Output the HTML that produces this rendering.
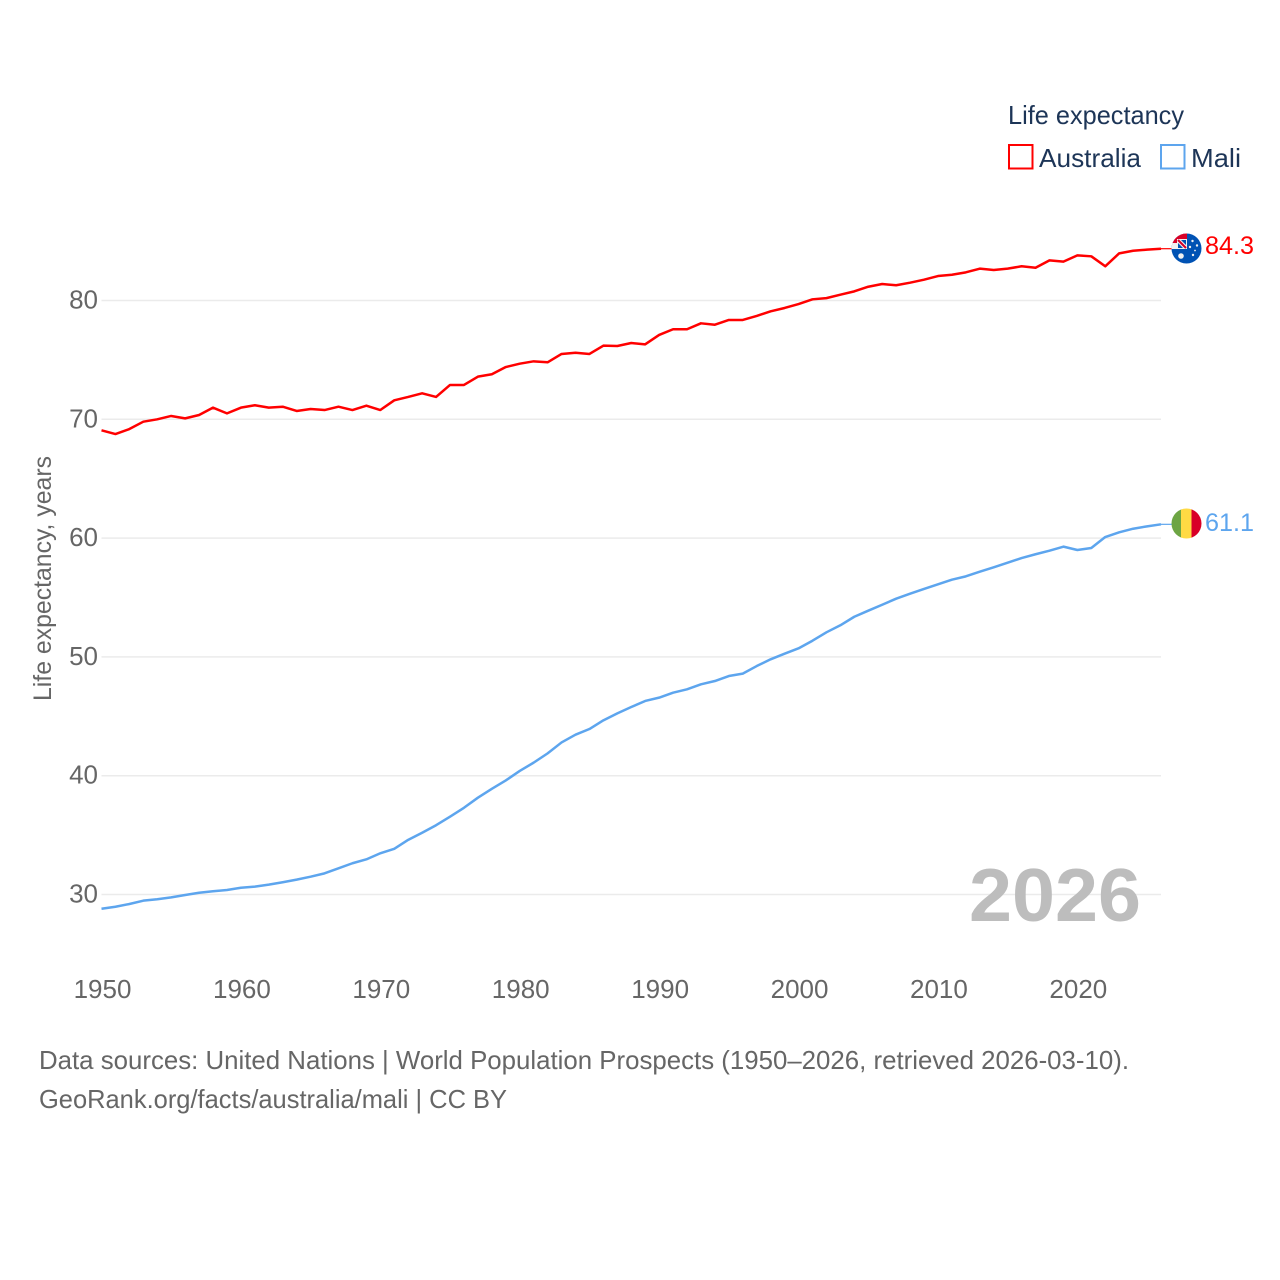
<!DOCTYPE html>
<html lang="en">
<head>
<meta charset="utf-8">
<title>Life expectancy: Australia and Mali</title>
<style>
html,body{margin:0;padding:0;background:#fff;width:1280px;height:1280px;overflow:hidden}
svg{display:block}
text{font-family:"Liberation Sans",sans-serif}
</style>
</head>
<body>
<svg id="chart" width="1280" height="1280" viewBox="0 0 1280 1280" xmlns="http://www.w3.org/2000/svg">
  <rect width="1280" height="1280" fill="#fff"/>
  <g id="grid"></g>
  <g id="yticks"></g>
  <g id="xticks"></g>
  <text transform="translate(51,701) rotate(-90)" font-size="25" fill="#666" textLength="245" lengthAdjust="spacingAndGlyphs">Life expectancy, years</text>
  <text x="969" y="921" font-size="75" font-weight="700" fill="#bdbdbd" textLength="172" lengthAdjust="spacingAndGlyphs">2026</text>
  <g id="series"></g>

  <g>
    <text x="1008" y="124" font-size="26" fill="#1d3557" textLength="176" lengthAdjust="spacingAndGlyphs">Life expectancy</text>
    <g>
      <rect x="1009" y="145" width="23.5" height="23.5" fill="none" stroke="#ff0000" stroke-width="2"/>
      <text x="1039" y="167" font-size="26" fill="#1d3557" textLength="102" lengthAdjust="spacingAndGlyphs">Australia</text>
    </g>
    <g>
      <rect x="1161" y="145" width="23.5" height="23.5" fill="none" stroke="#5da5ee" stroke-width="2"/>
      <text x="1191" y="167" font-size="26" fill="#1d3557" textLength="50" lengthAdjust="spacingAndGlyphs">Mali</text>
    </g>
  </g>

  <defs>
    <clipPath id="flag-au-clip"><circle cx="1186.5" cy="248.5" r="15"/></clipPath>
    <clipPath id="flag-ml-clip"><circle cx="1186.5" cy="523.5" r="15"/></clipPath>
  </defs>

  <g clip-path="url(#flag-au-clip)">
    <rect x="1171" y="233" width="31" height="31" fill="#0052b4"/>
    <rect x="1171" y="233" width="16" height="16" fill="#f0f0f0"/>
    <path d="M1171 233H1187V239H1177V243H1171Z" fill="#d80027"/>
    <path d="M1178 240L1186 248" stroke="#d80027" stroke-width="2"/>
    <path d="M1181 240H1186V245Z" fill="#0052b4"/>
    <path d="M1178 243V248H1183Z" fill="#0052b4"/>
    <circle cx="1181" cy="256" r="2.800" fill="#f0f0f0"/>
    <circle cx="1192.500" cy="241" r="1.200" fill="#f0f0f0"/>
    <circle cx="1197" cy="245.500" r="1.200" fill="#f0f0f0"/>
    <circle cx="1190" cy="247" r="1.200" fill="#f0f0f0"/>
    <circle cx="1193" cy="255" r="1.200" fill="#f0f0f0"/>
    <circle cx="1195" cy="250.500" r="0.900" fill="#f0f0f0"/>
  </g>
  <g clip-path="url(#flag-ml-clip)">
    <rect x="1171" y="508" width="11" height="31" fill="#6da544"/>
    <rect x="1181" y="508" width="11" height="31" fill="#ffda44"/>
    <rect x="1191.500" y="508" width="11" height="31" fill="#d80027"/>
  </g>

  <text x="1205" y="254" font-size="25" fill="#ff0000" textLength="49" lengthAdjust="spacingAndGlyphs">84.3</text>
  <text x="1205" y="531" font-size="25" fill="#5da5ee" textLength="49" lengthAdjust="spacingAndGlyphs">61.1</text>

  <text x="39" y="1069" font-size="26" fill="#666" textLength="1090" lengthAdjust="spacingAndGlyphs">Data sources: United Nations | World Population Prospects (1950–2026, retrieved 2026-03-10).</text>
  <text x="39" y="1108" font-size="26" fill="#666" textLength="468" lengthAdjust="spacingAndGlyphs">GeoRank.org/facts/australia/mali | CC BY</text>
</svg>

<script>
const startYear = 1950;
const yTickValues = [30, 40, 50, 60, 70, 80];
const xTickValues = [1950, 1960, 1970, 1980, 1990, 2000, 2010, 2020];
const australia = [
  69.07, 68.76, 69.18, 69.8, 70.0, 70.28, 70.08, 70.36, 70.98, 70.5,
  70.98, 71.18, 70.98, 71.06, 70.7, 70.87, 70.78, 71.06, 70.78, 71.15,
  70.78, 71.6, 71.88, 72.19, 71.88, 72.89, 72.89, 73.59, 73.79, 74.4,
  74.68, 74.88, 74.8, 75.5, 75.6, 75.5, 76.2, 76.17, 76.42, 76.31,
  77.1, 77.58, 77.58, 78.08, 77.96, 78.36, 78.36, 78.7, 79.09, 79.37,
  79.7, 80.1, 80.2, 80.49, 80.77, 81.16, 81.39, 81.28, 81.5, 81.75,
  82.06, 82.17, 82.37, 82.68, 82.57, 82.68, 82.88, 82.76, 83.38, 83.27,
  83.8, 83.72, 82.88, 83.97, 84.19, 84.28, 84.36
];
const mali = [
  28.8, 28.97, 29.2, 29.48, 29.6, 29.76, 29.96, 30.15, 30.27, 30.38,
  30.57, 30.66, 30.83, 31.03, 31.25, 31.5, 31.78, 32.2, 32.63, 32.96,
  33.47, 33.85, 34.6, 35.2, 35.83, 36.55, 37.3, 38.15, 38.9, 39.6,
  40.4, 41.1, 41.88, 42.8, 43.45, 43.93, 44.66, 45.25, 45.78, 46.29,
  46.57, 46.99, 47.27, 47.69, 47.97, 48.39, 48.59, 49.23, 49.8, 50.27,
  50.72, 51.36, 52.07, 52.66, 53.38, 53.89, 54.39, 54.9, 55.32, 55.72,
  56.11, 56.5, 56.78, 57.17, 57.54, 57.93, 58.32, 58.64, 58.94, 59.28,
  59.0, 59.17, 60.09, 60.49, 60.79, 60.99, 61.16
];

const SVG_NS = 'http://www.w3.org/2000/svg';
const xScale = function (year) { return 101.5 + (year - 1950) * (1161 - 101.5) / 76; };
const yScale = function (value) { return 894.5 - (value - 30) * (894.5 - 300.5) / 50; };
const plotLeft = xScale(1950);
const plotRight = xScale(2026);
const flagLeft = 1172;

const grid = document.getElementById('grid');
const yticks = document.getElementById('yticks');
yTickValues.forEach(function (value) {
  const line = document.createElementNS(SVG_NS, 'line');
  
  
  line.setAttribute('x1', plotLeft);
  line.setAttribute('x2', plotRight);
  line.setAttribute('y1', yScale(value));
  line.setAttribute('y2', yScale(value));
  line.setAttribute('stroke', '#ebebeb');
  line.setAttribute('stroke-width', '1.5');
  grid.appendChild(line);

  const label = document.createElementNS(SVG_NS, 'text');
  
  
  label.setAttribute('x', 98);
  label.setAttribute('y', yScale(value) + 8);
  label.setAttribute('text-anchor', 'end');
  label.setAttribute('font-size', '26');
  label.setAttribute('fill', '#666');
  label.textContent = value;
  yticks.appendChild(label);
});

const xticks = document.getElementById('xticks');
xTickValues.forEach(function (year) {
  const label = document.createElementNS(SVG_NS, 'text');
  
  
  label.setAttribute('x', xScale(year) + 1);
  label.setAttribute('y', 998);
  label.setAttribute('text-anchor', 'middle');
  label.setAttribute('font-size', '26');
  label.setAttribute('fill', '#666');
  label.textContent = year;
  xticks.appendChild(label);
});

function pathFor(values) {
  return values.map(function (value, i) {
    return (i ? 'L' : 'M') + xScale(startYear + i).toFixed(2) + ' ' + yScale(value).toFixed(2);
  }).join('');
}

const seriesGroup = document.getElementById('series');

const australiaLine = document.createElementNS(SVG_NS, 'path');


australiaLine.setAttribute('d', pathFor(australia));
australiaLine.setAttribute('fill', 'none');
australiaLine.setAttribute('stroke', '#ff0000');
australiaLine.setAttribute('stroke-width', '2.5');
australiaLine.setAttribute('stroke-linejoin', 'round');
seriesGroup.appendChild(australiaLine);

const maliLine = document.createElementNS(SVG_NS, 'path');


maliLine.setAttribute('d', pathFor(mali));
maliLine.setAttribute('fill', 'none');
maliLine.setAttribute('stroke', '#5da5ee');
maliLine.setAttribute('stroke-width', '2.5');
maliLine.setAttribute('stroke-linejoin', 'round');
seriesGroup.appendChild(maliLine);

const australiaLeader = document.createElementNS(SVG_NS, 'line');


australiaLeader.setAttribute('x1', plotRight);
australiaLeader.setAttribute('x2', flagLeft);
australiaLeader.setAttribute('y1', yScale(australia[australia.length - 1]));
australiaLeader.setAttribute('y2', yScale(australia[australia.length - 1]));
australiaLeader.setAttribute('stroke', '#ff0000');
australiaLeader.setAttribute('stroke-width', '1.2');
seriesGroup.appendChild(australiaLeader);

const maliLeader = document.createElementNS(SVG_NS, 'line');


maliLeader.setAttribute('x1', plotRight);
maliLeader.setAttribute('x2', flagLeft);
maliLeader.setAttribute('y1', yScale(mali[mali.length - 1]));
maliLeader.setAttribute('y2', yScale(mali[mali.length - 1]));
maliLeader.setAttribute('stroke', '#5da5ee');
maliLeader.setAttribute('stroke-width', '1.2');
seriesGroup.appendChild(maliLeader);
</script>
</body>
</html>
